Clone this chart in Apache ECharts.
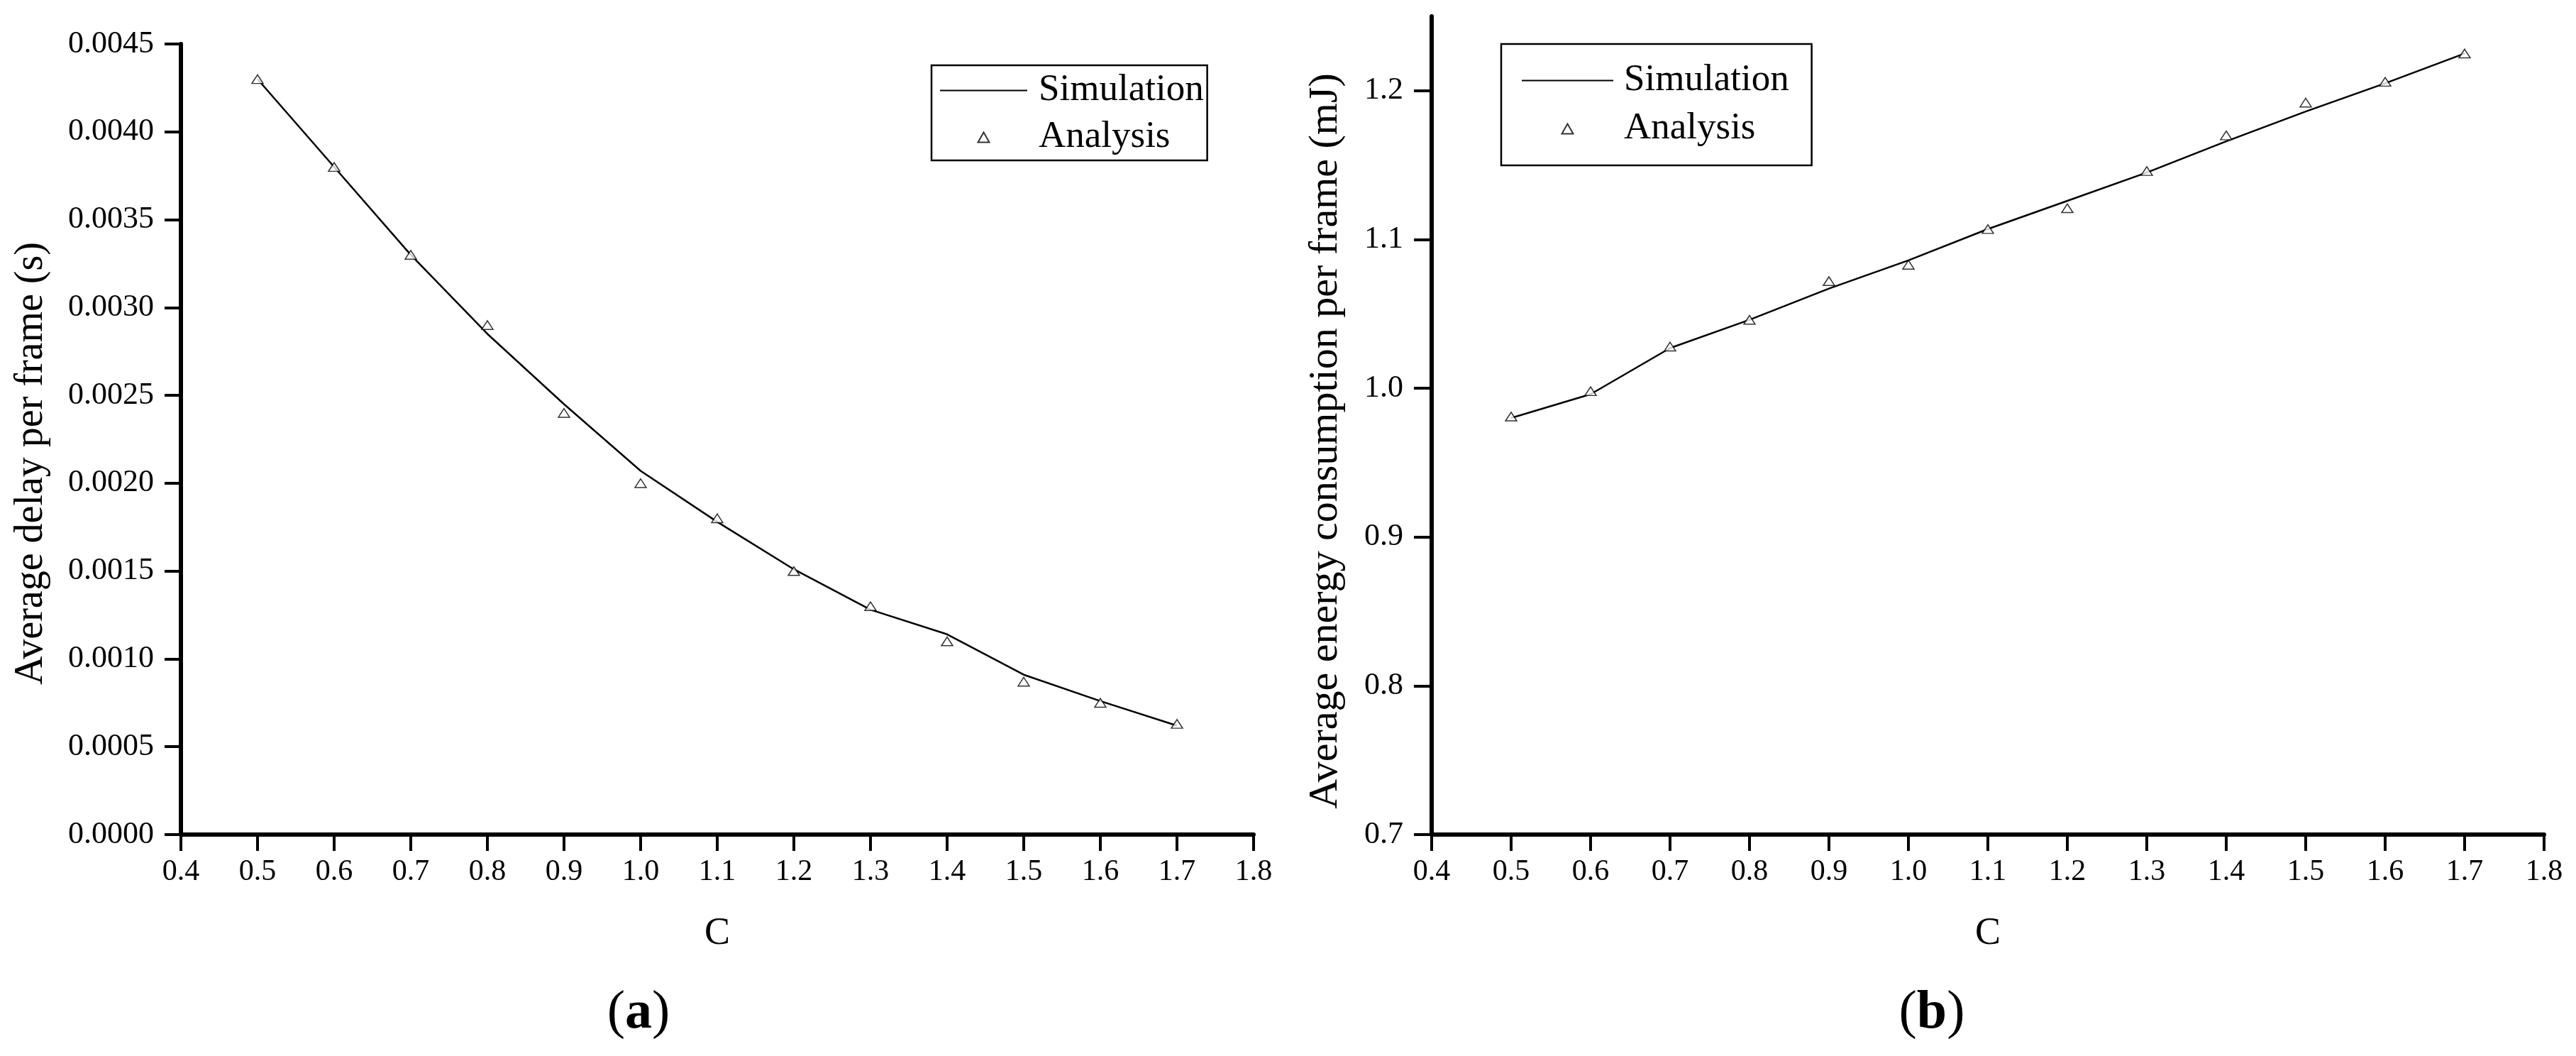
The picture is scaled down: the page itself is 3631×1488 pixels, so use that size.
<!DOCTYPE html>
<html>
<head>
  <meta charset="UTF-8">
  <style>
    html, body { margin: 0; padding: 0; background: #fff; }
  </style>
  <script src="https://cdn.jsdelivr.net/npm/echarts@6/dist/echarts.min.js"></script>
</head>
<body>
  <div id="chart" style="width: 3631px; height: 1488px;"></div>
  <script>
    // C values on the x axis (both panels)
    const cValues = [0.5, 0.6, 0.7, 0.8, 0.9, 1.0, 1.1, 1.2, 1.3, 1.4, 1.5, 1.6, 1.7]

    // (a) average delay per frame (s)
    const delaySim = [0.0043, 0.0038, 0.0033, 0.00285, 0.00245, 0.00207, 0.00178, 0.00151, 0.00128, 0.00114, 0.00091, 0.00076, 0.00062]
    const delayAna = [0.0043, 0.0038, 0.0033, 0.0029, 0.0024, 0.0020, 0.0018, 0.0015, 0.0013, 0.0011, 0.00087, 0.00075, 0.00063]

    // (b) average energy consumption per frame (mJ)
    const energySim = [0.980, 0.996, 1.027, 1.046, 1.067, 1.086, 1.107, 1.126, 1.145, 1.166, 1.186, 1.205, 1.225]
    const energyAna = [0.981, 0.998, 1.028, 1.046, 1.072, 1.083, 1.107, 1.121, 1.146, 1.170, 1.192, 1.206, 1.225]

    const energyTicks = [0.7, 0.8, 0.9, 1.0, 1.1, 1.2]

    const FONT = 'Liberation Serif'
    const TRI = 'path://M8,0L16,14L0,14Z'

    function pairs (xs, ys) {
      return xs.map((x, i) => [x, ys[i]])
    }

    function xAxisFor (gridIndex) {
      return {
        type: 'value',
        gridIndex: gridIndex,
        min: 0.4,
        max: 1.8,
        interval: 0.1,
        name: 'C',
        nameLocation: 'middle',
        nameGap: 113,
        nameTextStyle: { fontFamily: FONT, fontSize: 54, color: '#000' },
        axisLine: { lineStyle: { color: '#000', width: 6 } },
        axisTick: { length: 23, lineStyle: { color: '#000', width: 4 } },
        axisLabel: {
          margin: 32,
          fontFamily: FONT,
          fontSize: 42,
          color: '#000',
          formatter: v => v.toFixed(1)
        },
        splitLine: { show: false }
      }
    }

    const lineStyle = { color: '#000', width: 2.5 }
    const triStyle = { color: '#fff', borderColor: '#000', borderWidth: 1.5 }

    function legendFor (left, top, padding, itemWidth, itemGap, textPad) {
      return {
        orient: 'vertical',
        left: left,
        top: top,
        padding: padding,
        itemWidth: itemWidth,
        itemHeight: 14,
        itemGap: itemGap,
        selectedMode: false,
        symbolKeepAspect: true,
        borderColor: '#000',
        borderWidth: 2.5,
        data: [
          // line only, no marker in the middle of the sample
          { name: 'Simulation', itemStyle: { color: 'rgba(0,0,0,0)', borderColor: 'rgba(0,0,0,0)', borderWidth: 0 } },
          'Analysis'
        ],
        textStyle: {
          fontFamily: FONT,
          fontSize: 53,
          lineHeight: 52,
          color: '#000',
          padding: [0, 0, 0, textPad]
        }
      }
    }

    const myChart = echarts.init(document.getElementById('chart'))

    const options = {
      animation: false,
      backgroundColor: '#fff',
      grid: [
        { left: 255, top: 62, width: 1512, height: 1114 },
        { left: 2018, top: 23, width: 1568, height: 1153 }
      ],
      legend: [
        legendFor(1313, 92, [9, 5, 6, 11], 123, 13, 11),
        legendFor(2116, 62, [25, 32, 25, 28], 129, 15, 10)
      ],
      xAxis: [xAxisFor(0), xAxisFor(1)],
      yAxis: [
        {
          type: 'value',
          gridIndex: 0,
          min: 0,
          max: 0.0045,
          interval: 0.0005,
          name: 'Average delay per frame (s)',
          nameLocation: 'middle',
          nameGap: 183,
          nameTextStyle: { fontFamily: FONT, fontSize: 56, color: '#000', padding: [0, 68, 0, 0] },
          axisLine: { lineStyle: { color: '#000', width: 6 } },
          axisTick: { length: 23, lineStyle: { color: '#000', width: 4 } },
          axisLabel: {
            margin: 38,
            fontFamily: FONT,
            fontSize: 44,
            color: '#000',
            formatter: v => v.toFixed(4)
          },
          splitLine: { show: false }
        },
        {
          type: 'value',
          gridIndex: 1,
          min: 0.7,
          max: 1.25,
          name: 'Average energy consumption per frame (mJ)',
          nameLocation: 'middle',
          nameGap: 120,
          nameTextStyle: { fontFamily: FONT, fontSize: 58, color: '#000', padding: [0, 44, 0, 0] },
          axisLine: { lineStyle: { color: '#000', width: 6 } },
          axisTick: { length: 25, customValues: energyTicks, lineStyle: { color: '#000', width: 4 } },
          axisLabel: {
            margin: 40,
            customValues: energyTicks,
            fontFamily: FONT,
            fontSize: 44,
            color: '#000',
            formatter: v => v.toFixed(1)
          },
          splitLine: { show: false }
        }
      ],
      series: [
        {
          name: 'Simulation',
          type: 'line',
          xAxisIndex: 0,
          yAxisIndex: 0,
          symbol: 'none',
          lineStyle: lineStyle,
          itemStyle: { color: '#000' },
          data: pairs(cValues, delaySim)
        },
        {
          name: 'Analysis',
          type: 'scatter',
          xAxisIndex: 0,
          yAxisIndex: 0,
          symbol: TRI,
          symbolSize: [16, 14],
          symbolKeepAspect: true,
          itemStyle: triStyle,
          z: 5,
          data: pairs(cValues, delayAna)
        },
        {
          name: 'Simulation',
          type: 'line',
          xAxisIndex: 1,
          yAxisIndex: 1,
          symbol: 'none',
          lineStyle: lineStyle,
          itemStyle: { color: '#000' },
          data: pairs(cValues, energySim)
        },
        {
          name: 'Analysis',
          type: 'scatter',
          xAxisIndex: 1,
          yAxisIndex: 1,
          symbol: TRI,
          symbolSize: [16, 14],
          symbolKeepAspect: true,
          itemStyle: triStyle,
          z: 5,
          data: pairs(cValues, energyAna)
        }
      ],
      graphic: [
        {
          type: 'text',
          x: 900,
          y: 1428,
          style: {
            text: '{p|(}{b|a}{p|)}',
            align: 'center',
            verticalAlign: 'middle',
            rich: {
              p: { fontFamily: FONT, fontSize: 76, fill: '#000' },
              b: { fontFamily: FONT, fontSize: 76, fontWeight: 'bold', fill: '#000' }
            }
          }
        },
        {
          type: 'text',
          x: 2723,
          y: 1428,
          style: {
            text: '{p|(}{b|b}{p|)}',
            align: 'center',
            verticalAlign: 'middle',
            rich: {
              p: { fontFamily: FONT, fontSize: 76, fill: '#000' },
              b: { fontFamily: FONT, fontSize: 76, fontWeight: 'bold', fill: '#000' }
            }
          }
        }
      ]
    }

    myChart.setOption(options)
  </script>
</body>
</html>
